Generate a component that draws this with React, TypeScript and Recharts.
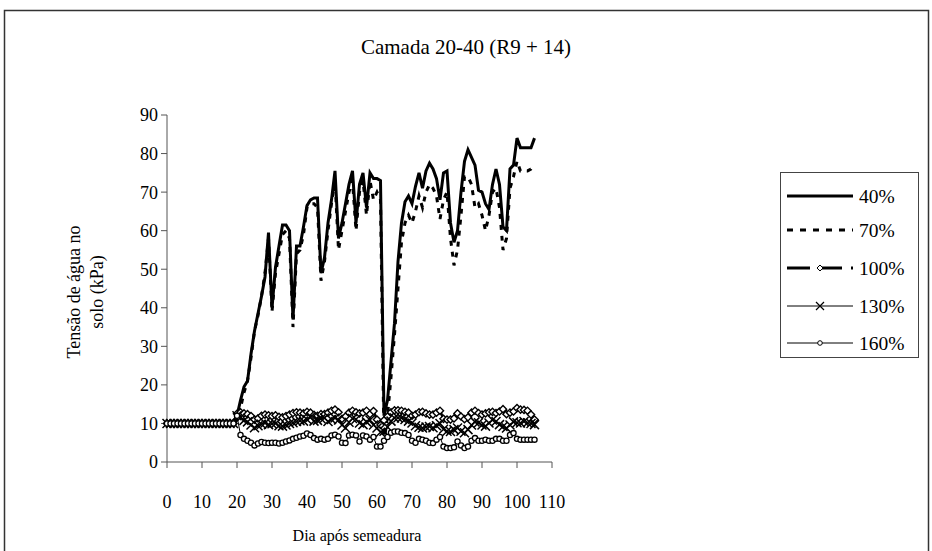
import { LineChart, Line, XAxis, YAxis } from 'recharts';

const FONT = '"Liberation Serif", "Times New Roman", serif';

const days = [
  0, 1, 2, 3, 4, 5, 6, 7, 8, 9, 10, 11, 12, 13, 14, 15, 16, 17, 18, 19,
  20, 21, 22, 23, 24, 25, 26, 27, 28, 29, 30, 31, 32, 33, 34, 35, 36, 37, 38, 39,
  40, 41, 42, 43, 44, 45, 46, 47, 48, 49, 50, 51, 52, 53, 54, 55, 56, 57, 58, 59,
  60, 61, 62, 63, 64, 65, 66, 67, 68, 69, 70, 71, 72, 73, 74, 75, 76, 77, 78, 79,
  80, 81, 82, 83, 84, 85, 86, 87, 88, 89, 90, 91, 92, 93, 94, 95, 96, 97, 98, 99,
  100, 101, 102, 103, 104, 105,
];

const s40 = [
  10, 10, 10, 10, 10, 10, 10, 10, 10, 10, 10, 10, 10, 10, 10, 10, 10, 10, 10, 10,
  12, 16, 19.5, 21, 28, 34, 38.5, 43, 48, 59.5, 40, 50.5, 56, 61.5, 61.5, 60, 37, 56, 56, 61,
  66.5, 68, 68.5, 68.5, 49, 53, 62, 68, 75.5, 58, 62, 67, 72, 75.5, 62, 72, 75, 66, 75, 73.5,
  73.5, 73, 12, 16, 26, 36, 52, 62, 67.5, 69, 67, 71.5, 75, 71, 75.5, 77.5, 76, 73.5, 68, 75,
  75.5, 62, 57, 60, 70, 78, 81, 79, 77, 70.5, 70, 67, 65.5, 72, 76, 72, 61, 60, 76, 77,
  84, 81.5, 81.5, 81.5, 81.5, 84,
];

const s70 = [
  10, 10, 10, 10, 10, 10, 10, 10, 10, 10, 10, 10, 10, 10, 10, 10, 10, 10, 10, 10,
  12, 14, 18, 21, 27, 34, 38, 43, 49, 58, 39, 49, 54, 59, 60, 58, 35, 54, 55, 59,
  66, 67, 67, 66, 47, 52, 60, 67, 73, 55, 60, 65, 70, 73, 60, 70, 73, 64, 73, 68,
  70, 68, 5, 12, 22, 33, 45, 57, 62, 64, 62, 65, 69, 66, 70, 72, 71, 69, 63, 68,
  70, 58, 51, 55, 64, 74, 74, 72, 66, 67, 64, 60, 64, 70, 71, 66, 55, 58, 71, 74,
  78, 75.5, 75.5, 75.5, 76, 77,
];

const s100 = [
  10, 10, 10, 10, 10, 10, 10, 10, 10, 10, 10, 10, 10, 10, 10, 10, 10, 10, 10, 10,
  12.5, 12.9, 12.6, 12.4, 11.9, 11, 11.3, 12, 12.3, 12.1, 11.9, 12.1, 11.7, 11.6, 11.9, 12.3, 12.7, 12.9, 12.8, 12.6,
  13, 12.8, 12.2, 12, 12.4, 12.4, 12.8, 13.3, 13.6, 12.9, 11.2, 11.8, 12.8, 13.3, 12.9, 12.6, 12.8, 13.3, 12.4, 13.2,
  11, 9.6, 10.8, 11.8, 12.9, 13.4, 13.4, 13.3, 13, 12.8, 12, 12.3, 12.9, 13, 12.6, 12.3, 12.3, 12.8, 13.3, 11.2,
  11, 11, 11.3, 12.6, 11.8, 11.1, 11.6, 12.8, 13.3, 12.7, 12.3, 12.6, 12.9, 13, 12.7, 13.1, 13.7, 12.4, 12.8, 13.1,
  14, 13.6, 13.5, 13.3, 12.3, 11,
];

const s130 = [
  10, 10, 10, 10, 10, 10, 10, 10, 10, 10, 10, 10, 10, 10, 10, 10, 10, 10, 10, 10,
  12, 11.5, 10.8, 10.4, 9.6, 8.9, 9.4, 9.8, 10.1, 9.7, 9.9, 10, 9.4, 9.3, 9.6, 10, 10.2, 10.5, 10.7, 10.6,
  11, 11.6, 10.6, 10.8, 11.2, 11.4, 10.5, 11, 11.4, 10.9, 9.6, 8.8, 10.3, 11.3, 11.1, 10.1, 9.7, 10.4, 10.9, 9.6,
  8.8, 7.7, 8, 9.1, 10.6, 11.4, 11.5, 11.4, 11, 10.6, 10.1, 9.4, 9, 8.8, 9.1, 9.2, 8.9, 9.4, 10, 8.5,
  8, 7.9, 8.4, 8.8, 8, 7.6, 8.4, 9.6, 10.4, 10.2, 9.6, 9.3, 10.1, 10.9, 10.5, 9.7, 9.2, 8.8, 9.6, 10.4,
  10.2, 10.1, 10.5, 10.2, 10, 9.7,
];

const s160 = [
  10, 10, 10, 10, 10, 10, 10, 10, 10, 10, 10, 10, 10, 10, 10, 10, 10, 10, 10, 10,
  12, 7, 6, 5.5, 5, 4.3, 4.8, 5.2, 5, 4.9, 5, 5, 4.8, 5, 5.3, 5.6, 6, 6.3, 6.6, 6.8,
  7.4, 7, 6.2, 5.8, 6, 5.8, 6, 6.9, 7.1, 6.6, 5, 4.9, 6.9, 7.1, 6.9, 5.3, 6.9, 6.6, 5.8, 6.5,
  4, 4, 5.5, 6.5, 7.6, 7.9, 7.9, 7.6, 7.5, 7, 5.5, 5, 6, 5.8, 5.5, 5, 4.9, 5.8, 6.5, 4,
  3.6, 3.6, 3.8, 5.3, 4.3, 3.6, 4, 5.5, 6.2, 5.5, 5.5, 5.8, 5.5, 5.5, 6, 6, 5.5, 5.5, 7, 7.5,
  6, 5.8, 5.8, 5.8, 5.8, 5.8,
];

const seriesNames = ['40%', '70%', '100%', '130%', '160%'];
const xTicks = [0, 10, 20, 30, 40, 50, 60, 70, 80, 90, 100, 110];
const yTicks = [0, 10, 20, 30, 40, 50, 60, 70, 80, 90];

const data = days.map((d, i) => ({
  day: d,
  s40: s40[i],
  s70: s70[i],
  s100: s100[i],
  s130: s130[i],
  s160: s160[i],
}));

const circleDot = (p: any) => {
  if (p.cx == null || p.cy == null) return <g key={`c-${p.index}`} />;
  return <circle key={`c-${p.index}`} cx={p.cx} cy={p.cy} r={2.6} fill="#fff" stroke="#000" strokeWidth={1.3} />;
};

const crossDot = (p: any) => {
  if (p.cx == null || p.cy == null) return <g key={`x-${p.index}`} />;
  const { cx, cy } = p;
  return (
    <path
      key={`x-${p.index}`}
      d={`M${cx - 4.5},${cy - 4.5}L${cx + 4.5},${cy + 4.5}M${cx - 4.5},${cy + 4.5}L${cx + 4.5},${cy - 4.5}`}
      stroke="#000"
      strokeWidth={1.5}
      fill="none"
    />
  );
};

const diamondDot = (p: any) => {
  if (p.cx == null || p.cy == null) return <g key={`d-${p.index}`} />;
  const { cx, cy } = p;
  return (
    <path
      key={`d-${p.index}`}
      d={`M${cx},${cy - 3.6}L${cx + 3.6},${cy}L${cx},${cy + 3.6}L${cx - 3.6},${cy}Z`}
      fill="#fff"
      stroke="#000"
      strokeWidth={1.4}
    />
  );
};

// legend drawn by hand, Recharts' Legend would eat into the plot area
function LegendBox() {
  const rowY = [23, 57, 95, 133, 170];
  return (
    <div style={{ position: 'absolute', left: 780, top: 172, width: 139, height: 186, border: '1px solid #444', background: '#fff', boxSizing: 'border-box' }}>
      <svg width={137} height={184} style={{ display: 'block' }}>
        <line x1={6} x2={72} y1={rowY[0]} y2={rowY[0]} stroke="#000" strokeWidth={3} />
        <line x1={6} x2={72} y1={rowY[1]} y2={rowY[1]} stroke="#000" strokeWidth={3} strokeDasharray="6 7" />
        <line x1={6} x2={72} y1={rowY[2]} y2={rowY[2]} stroke="#000" strokeWidth={3} strokeDasharray="23 9" />
        <path d={`M39,${rowY[2] - 3}L42,${rowY[2]}L39,${rowY[2] + 3}L36,${rowY[2]}Z`} fill="#fff" stroke="#000" strokeWidth={1} />
        <line x1={6} x2={72} y1={rowY[3]} y2={rowY[3]} stroke="#000" strokeWidth={1} />
        <path d={`M35,${rowY[3] - 4}L43,${rowY[3] + 4}M35,${rowY[3] + 4}L43,${rowY[3] - 4}`} stroke="#000" strokeWidth={1.2} />
        <line x1={6} x2={72} y1={rowY[4]} y2={rowY[4]} stroke="#000" strokeWidth={1} />
        <circle cx={39} cy={rowY[4]} r={2.3} fill="#fff" stroke="#000" strokeWidth={1} />
        {seriesNames.map((n, i) => (
          <text key={n} x={78} y={rowY[i]} dy="0.35em" fontFamily={FONT} fontSize={19.5} fill="#000">
            {n}
          </text>
        ))}
      </svg>
    </div>
  );
}

export default function App() {
  return (
    <div style={{ position: 'absolute', left: 0, top: 0, width: 932, height: 551, background: '#fff', overflow: 'hidden' }}>
      <svg width={932} height={551} style={{ position: 'absolute', left: 0, top: 0 }}>
        <rect x={4.5} y={10.5} width={924} height={560} fill="#fff" stroke="#333" strokeWidth={1.5} />
        <text x={466} y={54} textAnchor="middle" fontFamily={FONT} fontSize={21} fill="#000">
          Camada 20-40 (R9 + 14)
        </text>
        <text x={357} y={541} textAnchor="middle" fontFamily={FONT} fontSize={16} fill="#000">
          Dia após semeadura
        </text>
        <g transform="translate(80,292) rotate(-90)">
          <text x={0} y={0} textAnchor="middle" fontFamily={FONT} fontSize={18} fill="#000">
            Tensão de água no
          </text>
          <text x={0} y={23} textAnchor="middle" fontFamily={FONT} fontSize={18} fill="#000">
            solo (kPa)
          </text>
        </g>
      </svg>
      <div style={{ position: 'absolute', left: 0, top: 0 }}>
        <LineChart width={932} height={551} data={data} margin={{ top: 115, right: 380, bottom: 0, left: 0 }}>
          <XAxis
            dataKey="day"
            type="number"
            domain={[0, 110]}
            ticks={xTicks}
            interval={0}
            height={89}
            tickSize={6}
            tickMargin={27}
            stroke="#555"
            tick={{ fill: '#000', fontSize: 18, fontFamily: FONT }}
          />
          <YAxis
            type="number"
            domain={[0, 90]}
            ticks={yTicks}
            interval={0}
            width={167}
            tickSize={6}
            tickMargin={3}
            stroke="#555"
            tick={{ fill: '#000', fontSize: 18, fontFamily: FONT }}
          />
          <Line name={seriesNames[0]} dataKey="s40" stroke="#000" strokeWidth={3} dot={false} isAnimationActive={false} type="linear" />
          <Line name={seriesNames[1]} dataKey="s70" stroke="#000" strokeWidth={3} strokeDasharray="5 6" dot={false} isAnimationActive={false} type="linear" />
          <Line name={seriesNames[2]} dataKey="s100" stroke="#000" strokeWidth={2.5} strokeDasharray="20 8" dot={diamondDot} isAnimationActive={false} type="linear" />
          <Line name={seriesNames[3]} dataKey="s130" stroke="#000" strokeWidth={1} dot={crossDot} isAnimationActive={false} type="linear" />
          <Line name={seriesNames[4]} dataKey="s160" stroke="#000" strokeWidth={1} dot={circleDot} isAnimationActive={false} type="linear" />
        </LineChart>
      </div>
      <LegendBox />
    </div>
  );
}
